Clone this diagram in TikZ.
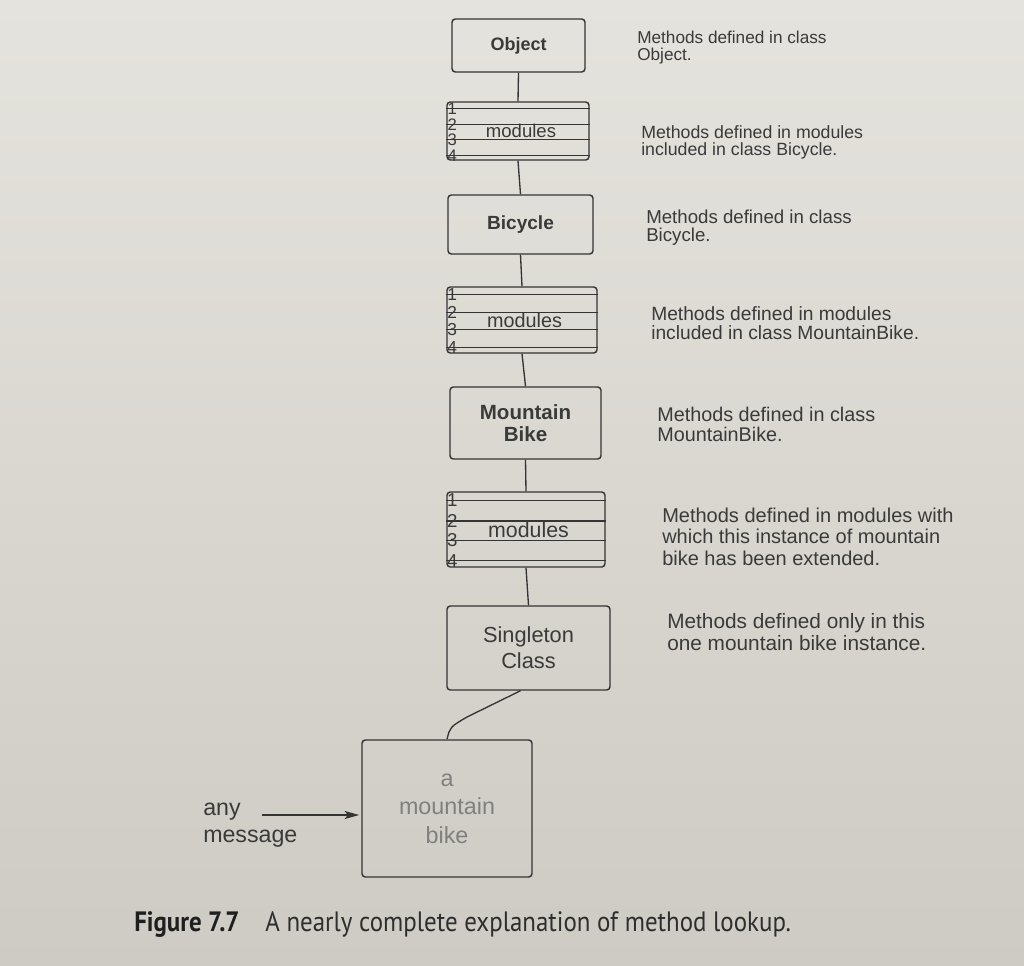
\documentclass[tikz,border=0pt]{standalone}
\usepackage{fontspec}
\setmainfont{Liberation Sans}
\newfontfamily\capfont[FakeStretch=0.89]{PT Sans}
\usetikzlibrary{calc,arrows.meta}
\definecolor{pagetop}{RGB}{229,227,221}
\definecolor{pagebot}{RGB}{206,203,196}
\definecolor{ink}{RGB}{52,52,52}
\definecolor{txt}{RGB}{58,58,58}
\definecolor{faint}{RGB}{128,128,126}
\begin{document}
\begin{tikzpicture}[x=0.75pt,y=-0.75pt,
  box/.style={draw=ink,line width=1.1pt,rounded corners=2.5pt,inner sep=0pt,align=center,text=txt},
  conn/.style={draw=ink,line width=1pt},
  desc/.style={anchor=north west,inner sep=0pt,align=left,text=txt},
  modtext/.style={inner sep=0pt,text=txt},
  digit/.style={inner sep=0pt,text=txt}
]
\shade[top color=pagetop,bottom color=pagebot] (0,0) rectangle (1024,966);
\useasboundingbox (0,0) rectangle (1024,966);

% class boxes
\node[box,minimum width=99.75pt,minimum height=39.75pt,font=\bfseries\fontsize{13.5}{16}\selectfont] (obj) at (518.5,45.5) {Object};
\node[box,minimum width=106.5pt,minimum height=43.5pt] (m1) at (518,131) {};
\node[box,minimum width=108.75pt,minimum height=44.25pt,font=\bfseries\fontsize{14.3}{17}\selectfont] (bic) at (520.5,224.5) {Bicycle};
\node[box,minimum width=112.5pt,minimum height=49.5pt] (m2) at (522,320) {};
\node[box,minimum width=113.25pt,minimum height=54pt,font=\bfseries\fontsize{15.4}{17}\selectfont] (mtb) at (525.5,423) {Mountain\\Bike};
\node[box,minimum width=118.5pt,minimum height=56.25pt] (m3) at (526,529.5) {};
\node[box,minimum width=122.25pt,minimum height=63pt,font=\fontsize{16.35}{19.5}\selectfont] (single) at (528.5,648) {Singleton\\Class};
\node[box,minimum width=127.5pt,minimum height=102.75pt,text=faint,font=\fontsize{17.5}{21.5}\selectfont] (bike) at (447,808.5) {a\\mountain\\bike};

% module box contents
\node[modtext,font=\fontsize{13.9}{16}\selectfont] (m1t) at (521,131) {modules};
\node[modtext,font=\fontsize{14.85}{17}\selectfont] (m2t) at (524.5,320) {modules};
\node[modtext,font=\fontsize{16}{18}\selectfont] (m3t) at (528.5,530) {modules};
\foreach \m/\s in {m1/12.5,m2/13,m3/14}{
  \foreach \f/\d in {0.12/1,0.39/2,0.64/3,0.91/4}{
    \draw[ink,line width=0.9pt] ($(\m.north west)!\f!(\m.south west)$) -- ($(\m.north east)!\f!(\m.south east)$);
    \node[digit,font=\fontsize{\s}{\s}\selectfont] (\m-\d) at ($(\m.north west)!\f!(\m.south west)+(6,0)$) {\d};
  }
}

% connectors
\draw[conn] (obj.south) -- (m1.north);
\draw[conn] (m1.south) -- (bic.north);
\draw[conn] (bic.south) -- (m2.north);
\draw[conn] (m2.south) -- (mtb.north);
\draw[conn] (mtb.south) -- (m3.north);
\draw[conn] (m3.south) -- (single.north);
\coordinate (bend) at (467,717);
\draw[conn] ([xshift=-6pt]single.south) -- (bend) .. controls (450,727) .. (bike.north);

% incoming message
\node[anchor=north west,inner sep=0pt,align=left,text=txt,font=\fontsize{17.4}{20.2}\selectfont] (msg) at (203,803) {any\\message};
\coordinate (a0) at (262,815);
\draw[conn,shorten >=1.5pt,-{Stealth[length=11pt,width=6pt,inset=2.5pt]}] (a0) -- (a0 -| bike.west);

% descriptions
\node[desc,font=\fontsize{12.9}{12.6}\selectfont] (d1) at (637,31) {Methods defined in class\\Object.};
\node[desc,font=\fontsize{13.3}{12.8}\selectfont] (d2) at (641,125.5) {Methods defined in modules\\included in class Bicycle.};
\node[desc,font=\fontsize{14}{13.8}\selectfont] (d3) at (646,209.5) {Methods defined in class\\Bicycle.};
\node[desc,font=\fontsize{14.4}{14}\selectfont] (d4) at (651,306.6) {Methods defined in modules\\included in class MountainBike.};
\node[desc,font=\fontsize{14.85}{15.2}\selectfont] (d5) at (657,406.5) {Methods defined in class\\MountainBike.};
\node[desc,font=\fontsize{15}{16.1}\selectfont] (d6) at (662,507.4) {Methods defined in modules with\\which this instance of mountain\\bike has been extended.};
\node[desc,font=\fontsize{15.6}{16.8}\selectfont] (d7) at (667,612.8) {Methods defined only in this\\one mountain bike instance.};

% caption
\node[anchor=base west,inner sep=0pt,text=black!88,font=\capfont\bfseries\fontsize{21}{24}\selectfont] (fig) at (134,931) {Figure 7.7};
\node[anchor=base west,inner sep=0pt,text=black!82,font=\capfont\fontsize{21}{24}\selectfont] (cap) at (265,931) {A nearly complete explanation of method lookup.};
\end{tikzpicture}
\end{document}
